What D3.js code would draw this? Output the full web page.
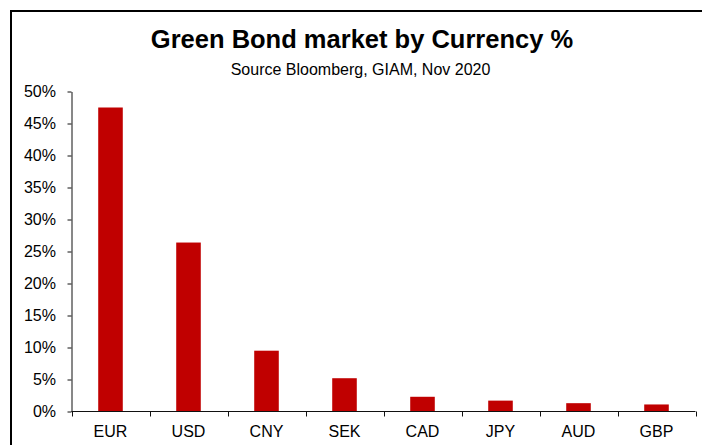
<!DOCTYPE html>
<html>
<head>
<meta charset="utf-8">
<script src="https://cdn.jsdelivr.net/npm/d3@7"></script>
<style>
  html, body { margin: 0; padding: 0; background: #fff; }
  svg { display: block; }
  text { font-family: Arial, "Liberation Sans", sans-serif; fill: #000; }
</style>
</head>
<body>
<svg id="chart" width="702" height="445"></svg>
<script>
// Share of green bond issuance by currency (%)
const currencies = ["EUR", "USD", "CNY", "SEK", "CAD", "JPY", "AUD", "GBP"];
const shares = [47.5, 26.4, 9.5, 5.2, 2.3, 1.7, 1.3, 1.1];
const yTicks = [0, 5, 10, 15, 20, 25, 30, 35, 40, 45, 50];

const titleText = "Green Bond market by Currency %";
const subtitleText = "Source Bloomberg, GIAM, Nov 2020";

const svg = d3.select("#chart");

// Outer frame running off the right and bottom edges
svg.append("rect")
  .attr("x", 11).attr("y", 11)
  .attr("width", 720).attr("height", 460)
  .attr("fill", "none")
  .attr("stroke", "#000")
  .attr("stroke-width", 2);

svg.append("text")
  .attr("x", 362).attr("y", 47.5)
  .attr("text-anchor", "middle")
  .style("font-size", "25.5px")
  .style("font-weight", "bold")
  .text(titleText);

svg.append("text")
  .attr("x", 360.5).attr("y", 75)
  .attr("text-anchor", "middle")
  .style("font-size", "16px")
  .text(subtitleText);

const x = d3.scaleBand()
  .domain(currencies)
  .range([71.5, 695.5])
  .paddingInner(0.685)
  .paddingOuter(0.3425);

const y = d3.scaleLinear()
  .domain([0, 50])
  .range([411.5, 91.5]);

// Bars
svg.append("g")
  .selectAll("rect")
  .data(currencies)
  .join("rect")
  .attr("x", d => x(d))
  .attr("width", x.bandwidth())
  .attr("y", (d, i) => y(shares[i]))
  .attr("height", (d, i) => y(0) - y(shares[i]))
  .attr("fill", "#C00000");

// Y axis
const yAxis = svg.append("g")
  .attr("transform", "translate(71.5,0)")
  .call(d3.axisLeft(y)
    .tickValues(yTicks)
    .tickSize(4)
    .tickSizeOuter(0)
    .tickPadding(11.5)
    .tickFormat(d => d + "%"));
yAxis.selectAll("text").style("font-size", "16px").attr("fill", "#000");
yAxis.selectAll("path, line").attr("stroke", "#111");

// X axis: tick marks sit on the category boundaries
const boundaries = d3.range(currencies.length + 1)
  .map(i => 71.5 + i * x.step());

const xAxisG = svg.append("g")
  .attr("transform", "translate(0,411.5)");
xAxisG.append("path")
  .attr("d", `M${boundaries[0]},0H${boundaries[boundaries.length - 1]}`)
  .attr("stroke", "#111")
  .attr("fill", "none");
xAxisG.selectAll("line")
  .data(boundaries)
  .join("line")
  .attr("x1", d => Math.round(d) + 0.5)
  .attr("x2", d => Math.round(d) + 0.5)
  .attr("y1", 0)
  .attr("y2", 5)
  .attr("stroke", "#111");

const xAxis = svg.append("g")
  .attr("transform", "translate(0,411.5)")
  .call(d3.axisBottom(x).tickSize(0).tickPadding(14));
xAxis.select(".domain").remove();
xAxis.selectAll("text")
  .style("font-size", "16px")
  .attr("fill", "#000")
  .attr("dy", "0.71em");
</script>
</body>
</html>
